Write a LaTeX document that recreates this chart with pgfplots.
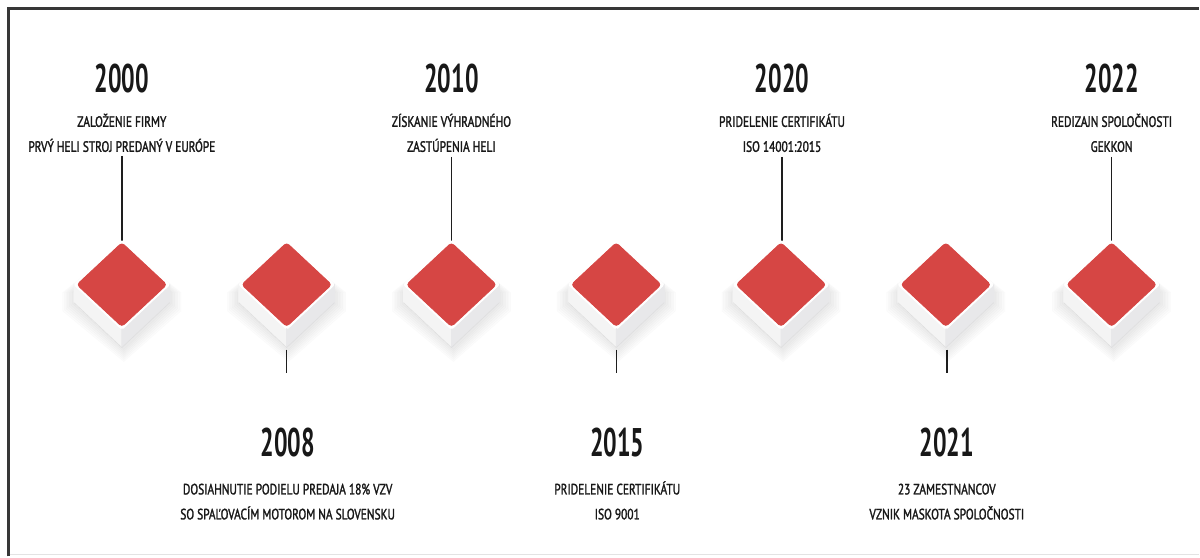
\documentclass[border=0pt]{standalone}
\usepackage{fontspec}
\setmainfont{PT Sans}[FakeStretch=0.76,FakeBold=1.6]
\newfontfamily\yearfont{PT Sans}[FakeStretch=0.6]
\usepackage{pgfplots}
\pgfplotsset{compat=1.18}
\usepackage{pgfplotstable}
\definecolor{dred}{RGB}{214,70,68}
\definecolor{textc}{RGB}{24,24,24}
\definecolor{framec}{RGB}{55,55,55}
\definecolor{faceL}{RGB}{244,244,244}
\definecolor{faceR}{RGB}{232,232,234}
\definecolor{linec}{RGB}{30,30,30}

% diamond blocks: x position, y position (pixels from top)
\pgfplotstableread{
x y
122 285
287 285
452 285
617 285
782 285
947 285
1113 285
}\blocks

\pgfdeclareplotmark{block}{%
  \begin{scope}[x=1pt,y=1pt]
  % soft shadow
  \foreach \s in {1,2,...,7}{%
    \fill[black,opacity=0.012] (-24-0.8*\s,-4) -- (0,20) -- (24+0.8*\s,-4) -- (24+0.8*\s,-9-0.6*\s) -- (1,-31.5-\s) -- (-24-0.8*\s,-9-0.6*\s) -- cycle;
  }
  % side faces
  \fill[faceL] (-24,0) -- (0,-22.5) -- (0,-31.5) -- (-24,-9) -- cycle;
  \fill[faceR] (0,-22.5) -- (24,0) -- (24,-9) -- (0,-31.5) -- cycle;
  \draw[gray!25,line width=0.3pt] (-24,-9) -- (0,-31.5) -- (24,-9);
  % top face
  \fill[white,rounded corners=1pt] (-24,0) -- (0,22.5) -- (24,0) -- (0,-22.5) -- cycle;
  \fill[dred,rounded corners=1.6pt] (-22.5,0) -- (0,21) -- (22.5,0) -- (0,-21) -- cycle;
  \end{scope}
}

\newcommand{\topev}[4]{%
  \node[anchor=base,inner sep=0,text=textc,font=\yearfont\bfseries\fontsize{20}{24}\selectfont] at (axis cs:#1,93) {#2};
  \node[anchor=base,inner sep=0,text=textc,font=\fontsize{7.5}{12}\selectfont] at (axis cs:#1,127) {#3};
  \node[anchor=base,inner sep=0,text=textc,font=\fontsize{7.5}{12}\selectfont] at (axis cs:#1,152) {#4};
}
\newcommand{\botev}[4]{%
  \node[anchor=base,inner sep=0,text=textc,font=\yearfont\bfseries\fontsize{20}{24}\selectfont] at (axis cs:#1,457) {#2};
  \node[anchor=base,inner sep=0,text=textc,font=\fontsize{7.5}{12}\selectfont] at (axis cs:#1,495) {#3};
  \node[anchor=base,inner sep=0,text=textc,font=\fontsize{7.5}{12}\selectfont] at (axis cs:#1,520) {#4};
}

\begin{document}
\begin{tikzpicture}
\begin{axis}[
  scale only axis, width=600pt, height=278.5pt,
  xmin=0, xmax=1200, ymin=0, ymax=557, y dir=reverse,
  hide axis, clip=false]
\fill[white] (axis cs:0,0) rectangle (axis cs:1200,557);
% frame
\draw[gray!22,line width=0.8pt] (axis cs:9,555) -- (axis cs:1200,555);
\draw[framec,line width=1.5pt] (axis cs:9,557) -- (axis cs:9,9) -- (axis cs:1200,9);

% connector lines, top events
\addplot[linec,line width=0.7pt] coordinates {(122,156) (122,243)};
\addplot[linec,line width=0.7pt] coordinates {(452,157) (452,243)};
\addplot[linec,line width=0.7pt] coordinates {(783,157) (783,243)};
\addplot[linec,line width=0.7pt] coordinates {(1113,157) (1113,243)};

% blocks
\addplot[only marks, mark=block] table[x=x,y=y] {\blocks};

% connector lines, bottom events (through the block)
\addplot[dred!55!white,line width=0.6pt] coordinates {(287,246) (287,327)};
\addplot[gray!45,line width=0.6pt] coordinates {(287,327) (287,347)};
\addplot[linec,line width=0.7pt] coordinates {(287,350) (287,373)};
\addplot[dred!55!white,line width=0.6pt] coordinates {(617,246) (617,327)};
\addplot[gray!45,line width=0.6pt] coordinates {(617,327) (617,347)};
\addplot[linec,line width=0.7pt] coordinates {(617,350) (617,373)};
\addplot[dred!55!white,line width=0.6pt] coordinates {(948,246) (948,327)};
\addplot[gray!45,line width=0.6pt] coordinates {(948,327) (948,347)};
\addplot[linec,line width=0.7pt] coordinates {(948,350) (948,373)};

% texts
\topev{122}{2000}{ZALOŽENIE FIRMY}{PRVÝ HELI STROJ PREDANÝ V EURÓPE}
\topev{452}{2010}{ZÍSKANIE VÝHRADNÉHO}{ZASTÚPENIA HELI}
\topev{783}{2020}{PRIDELENIE CERTIFIKÁTU}{ISO 14001:2015}
\topev{1113}{2022}{REDIZAJN SPOLOČNOSTI}{GEKKON}
\botev{288}{2008}{DOSIAHNUTIE PODIELU PREDAJA 18\% VZV}{SO SPAĽOVACÍM MOTOROM NA SLOVENSKU}
\botev{618}{2015}{PRIDELENIE CERTIFIKÁTU}{ISO 9001}
\botev{948}{2021}{23 ZAMESTNANCOV}{VZNIK MASKOTA SPOLOČNOSTI}
\end{axis}
\end{tikzpicture}
\end{document}
